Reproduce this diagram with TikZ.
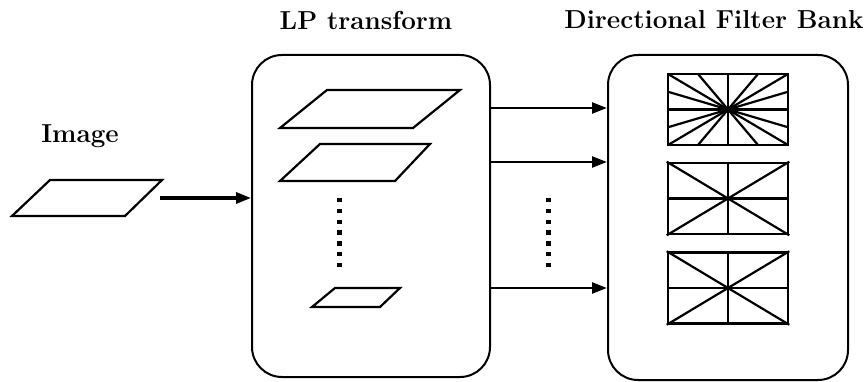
\documentclass[tikz,border=0pt]{standalone}
\usetikzlibrary{arrows.meta}
\begin{document}
\begin{tikzpicture}[x=1pt,y=-1pt,
  stage/.style={draw, line width=2pt, rounded corners=30pt, inner sep=0pt},
  fbank/.style={draw, line width=2.6pt, inner sep=0pt, minimum width=120pt, minimum height=71pt},
  plane/.style={line width=2.2pt, line join=miter},
  ray/.style={line width=2.2pt},
  flow/.style={line width=2.6pt, -{Triangle[length=15pt,width=11pt]}},
  vdots/.style={line width=5pt, dash pattern=on 4.5pt off 6.3pt},
  title/.style={font=\bfseries\fontsize{26}{30}\selectfont, inner sep=0pt}]
\useasboundingbox (0,0) rectangle (868,382);

% titles
\node[title] (tlp) at (366,20) {LP transform};
\node[title] (tdfb) at (714,20) {Directional Filter Bank};
\node[title] (timg) at (80,136) {Image};

% input image plane
\draw[plane] (12,216) -- (125,216) -- (162,180) -- (50,180) -- cycle;
\coordinate (imgout) at (160,198);

% Laplacian pyramid stage
\node[stage, minimum width=238pt, minimum height=322pt] (lp) at (371,216) {};
\draw[plane] (280,128) -- (413,128) -- (460,90) -- (327,90) -- cycle;
\draw[plane] (280,181) -- (395,181) -- (430,144) -- (320,144) -- cycle;
\draw[plane] (312,307) -- (380,307) -- (400,288) -- (335,288) -- cycle;
\draw[vdots] (339,198) -- (339,267);

% directional filter bank stage
\node[stage, minimum width=240pt, minimum height=325pt] (dfb) at (728,217.5) {};
\node[fbank] (f1) at (728,109.5) {};
\node[fbank] (f2) at (728,198.5) {};
\node[fbank] (f3) at (728,288) {};

% fine wedge partition
\foreach \dx/\dy in {-60/-35.5, -30/-35.5, 0/-35.5, 30/-35.5, 60/-35.5, -60/-17.75, -60/0, -60/17.75}
  \draw[ray] ([shift={(\dx,\dy)}]f1.center) -- ([shift={(-\dx,-\dy)}]f1.center);

% coarse wedge partitions
\foreach \f in {f2,f3} {
  \draw[ray] (\f.north) -- (\f.south);
  \draw[ray] (\f.west) -- (\f.east);
  \draw[ray] (\f.north west) -- (\f.south east);
  \draw[ray] (\f.north east) -- (\f.south west);
}

% connectors
\draw[flow, line width=3.2pt] (imgout) -- (lp.west |- imgout);
\foreach \y in {108,162,288}
  \draw[flow] (lp.east |- 0,\y) -- (dfb.west |- 0,\y);
\draw[vdots] (548,198) -- (548,267);
\end{tikzpicture}
\end{document}
